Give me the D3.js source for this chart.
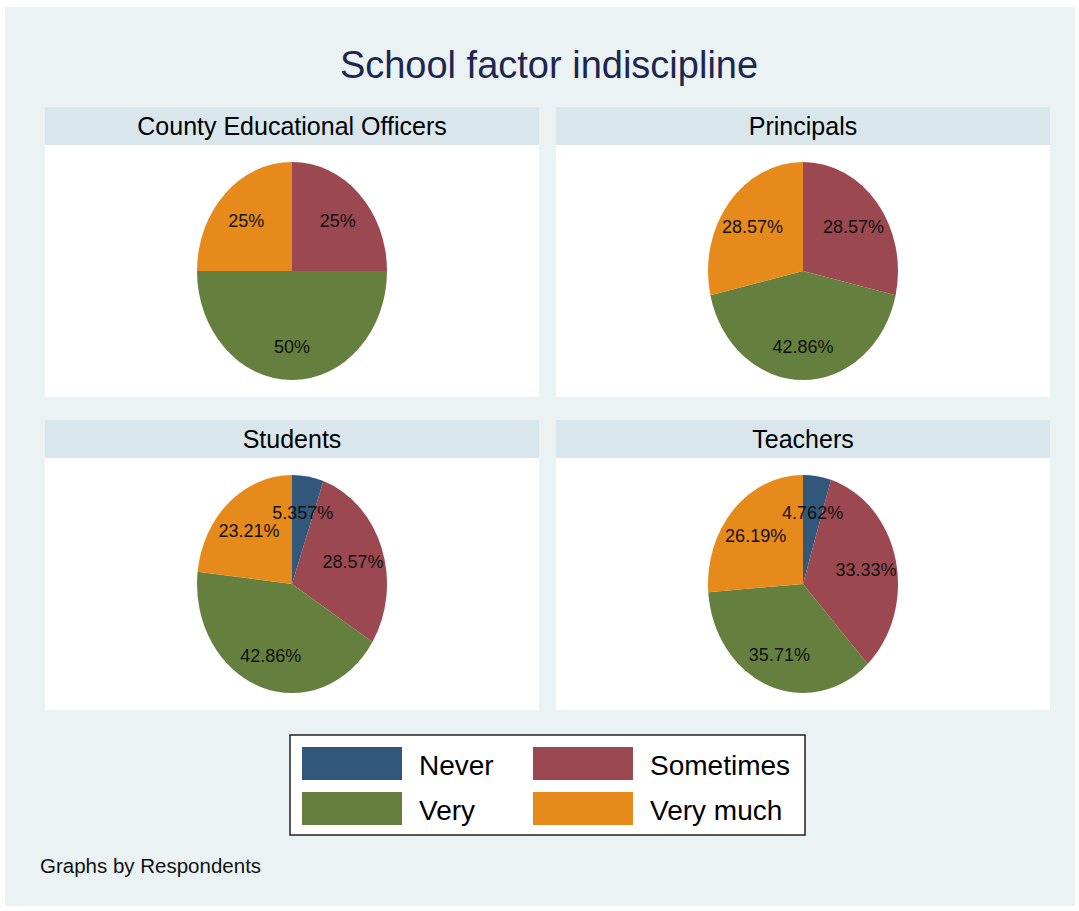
<!DOCTYPE html>
<html><head><meta charset="utf-8">
<script src="https://cdn.jsdelivr.net/npm/d3@7"></script>
<style>body{margin:0;background:#fff;font-family:"Liberation Sans",Arial,sans-serif}</style>
</head><body><svg id="c" width="1079" height="911"></svg>
<script>
const title = "School factor indiscipline";
const groups = ["County Educational Officers","Principals","Students","Teachers"];
const categories = ["Never","Sometimes","Very","Very much"];
const colors = ["#31577a","#9b4850","#657f3f","#e78a1c"];
const ceoValues = [0, 25, 50, 25];
const principalValues = [0, 28.57, 42.86, 28.57];
const studentValues = [5.357, 28.57, 42.86, 23.21];
const teacherValues = [4.762, 33.33, 35.71, 26.19];
const labelsText = [
  ["", "25%", "50%", "25%"],
  ["", "28.57%", "42.86%", "28.57%"],
  ["5.357%", "28.57%", "42.86%", "23.21%"],
  ["4.762%", "33.33%", "35.71%", "26.19%"]
];
const allValues = [ceoValues, principalValues, studentValues, teacherValues];
const footer = "Graphs by Respondents";

const svg = d3.select("#c");
svg.append("rect").attr("x",5).attr("y",7).attr("width",1070).attr("height",899).attr("fill","#eaf2f3");
svg.append("text").attr("x",549).attr("y",78).attr("text-anchor","middle")
  .attr("font-size",38).attr("fill","#1e2650").text(title);

const color = d3.scaleOrdinal().domain(categories).range(colors);
const panels = [
  {x:45, y:107}, {x:556, y:107}, {x:45, y:420}, {x:556, y:420}
];
const pw = 494, hh = 38, bh = 252;
const rx = 95, ry = 109;
const pie = d3.pie().sort(null).value(d=>d.v);
const arc = d3.arc().innerRadius(0).outerRadius(rx);

groups.forEach((g,i)=>{
  const p = panels[i];
  const G = svg.append("g").attr("transform",`translate(${p.x},${p.y})`);
  G.append("rect").attr("width",pw).attr("height",hh).attr("fill","#d9e6eb");
  G.append("text").attr("x",pw/2).attr("y",28).attr("text-anchor","middle")
    .attr("font-size",25).attr("fill","#000").text(g);
  G.append("rect").attr("y",hh).attr("width",pw).attr("height",bh).attr("fill","#fff");
  const data = categories.map((c,k)=>({c, v: allValues[i][k], lab: labelsText[i][k]}));
  const arcs = pie(data);
  const cx = pw/2, cy = 164;
  const P = G.append("g").attr("transform",`translate(${cx},${cy}) scale(1,${ry/rx})`);
  P.selectAll("path").data(arcs.filter(a=>a.data.v>0)).join("path")
    .attr("d",arc).attr("fill",d=>color(d.data.c));
  G.selectAll("text.lab").data(arcs.filter(a=>a.data.v>0)).join("text")
    .attr("class","lab")
    .attr("x",d=>{const m=(d.startAngle+d.endAngle)/2; return cx + Math.sin(m)*rx*0.68;})
    .attr("y",d=>{const m=(d.startAngle+d.endAngle)/2; return cy - Math.cos(m)*ry*0.68 + 8;})
    .attr("text-anchor","middle").attr("font-size",18).attr("fill","#111")
    .text(d=>d.data.lab);
});

// legend
const L = svg.append("g").attr("transform","translate(290,735)");
L.append("rect").attr("width",515).attr("height",100).attr("fill","#fff").attr("stroke","#222").attr("stroke-width",1.5);
categories.forEach((c,k)=>{
  const col = k%2, row = Math.floor(k/2);
  const x = 12 + col*231, y = 12 + row*45;
  L.append("rect").attr("x",x).attr("y",y).attr("width",100).attr("height",33).attr("fill",color(c));
  L.append("text").attr("x",x+117).attr("y",y+28).attr("font-size",28).attr("fill","#000").text(c);
});
svg.append("text").attr("x",40).attr("y",873).attr("font-size",20.5).attr("fill","#111").text(footer);
</script></body></html>
